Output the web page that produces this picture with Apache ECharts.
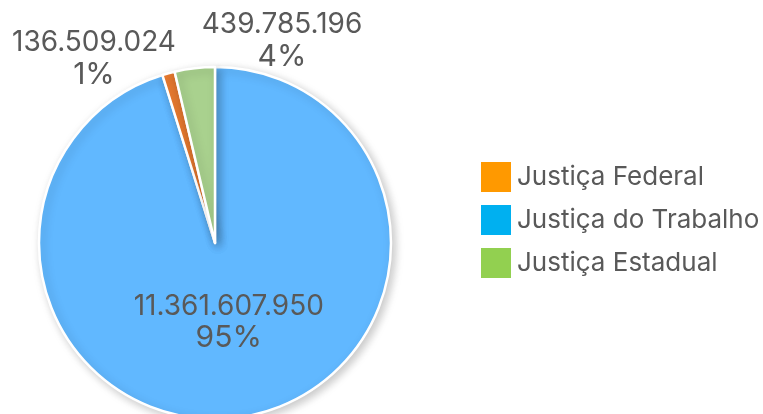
<!DOCTYPE html>
<html>
<head>
<meta charset="utf-8">
<script src="https://cdn.jsdelivr.net/npm/echarts@6/dist/echarts.min.js"></script>
<style>
  html, body { margin: 0; padding: 0; background: #fff; }
  #chart { width: 763px; height: 414px; }
</style>
</head>
<body>
<div id="chart"></div>
<script>
// slice order = drawing order clockwise from 12 o'clock
const categories = ["Justiça do Trabalho", "Justiça Federal", "Justiça Estadual"];
const values = [11361607950, 136509024, 439785196];
const sliceColors = ["#61B8FF", "#ED7D31", "#A9D18E"];

// legend order and swatch colours as shown on the right
const legendItems = ["Justiça Federal", "Justiça do Trabalho", "Justiça Estadual"];
const legendColors = ["#FF9900", "#00B0F0", "#92D050"];

const total = values.reduce((a, b) => a + b, 0);
const fmt = (v) => String(v).replace(/\B(?=(\d{3})+(?!\d))/g, ".");

const chart = echarts.init(document.getElementById("chart"));

const option = {
  textStyle: { fontFamily: "Inter" },
  legend: {
    orient: "vertical",
    left: 474,
    top: 155,
    itemWidth: 32,
    itemHeight: 32,
    itemGap: 9,
    icon: "rect",
    textStyle: { color: "#595959", fontSize: 26, fontFamily: "Inter" },
    data: legendItems.map((name, i) => ({
      name: name,
      itemStyle: { color: legendColors[i] },
    })),
  },
  series: [
    {
      type: "pie",
      center: [215, 243],
      radius: [0, 176],
      startAngle: 90,
      clockwise: true,
      animation: false,
      itemStyle: {
        borderColor: "#fff",
        borderWidth: 2.5,
        shadowBlur: 10,
        shadowOffsetX: 3,
        shadowOffsetY: 3,
        shadowColor: "rgba(0,0,0,0.22)",
      },
      emphasis: { disabled: true },
      labelLine: { show: false },
      label: {
        color: "#595959",
        fontFamily: "Inter",
        overflow: "none",
        formatter: function (p) {
          return "{n|" + fmt(p.value) + "}\n{p|" + Math.round((p.value / total) * 100) + "%}";
        },
        rich: {
          n: { fontSize: 28, color: "#595959", fontFamily: "Inter", align: "center", lineHeight: 31 },
          p: { fontSize: 30, color: "#595959", fontFamily: "Inter", align: "center", lineHeight: 33 },
        },
      },
      labelLayout: function (params) {
        if (params.dataIndex === 1) {
          return { x: 94, y: 59, align: "center", verticalAlign: "middle" };
        }
        if (params.dataIndex === 2) {
          return { x: 282, y: 41, align: "center", verticalAlign: "middle" };
        }
        return { dy: -10 };
      },
      data: categories.map((name, i) => ({
        name: name,
        value: values[i],
        itemStyle: { color: sliceColors[i] },
        label: { position: i === 0 ? "inside" : "outside" },
      })),
    },
  ],
};

chart.setOption(option);
</script>
</body>
</html>
